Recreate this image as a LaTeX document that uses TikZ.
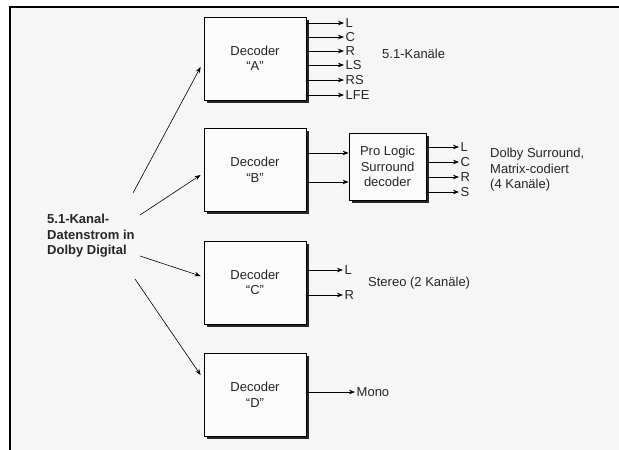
\documentclass[tikz,border=0pt]{standalone}
\usepackage{fontspec}
\setmainfont{Liberation Sans}
\usetikzlibrary{arrows.meta,shadows}
\tikzset{
  txt/.style={font=\fontsize{13}{15.5}\selectfont, text=black!85},
  decbox/.style={txt, draw=black, line width=0.8pt, fill=gray!3, minimum width=102pt, minimum height=83pt, inner sep=0pt, align=center,
     drop shadow={shadow xshift=2.5pt, shadow yshift=-2.5pt, fill=black!85, opacity=1}},
  arr/.style={-{Stealth[length=6pt,width=4.5pt]}, line width=0.6pt},
  lbl/.style={txt, anchor=west, inner sep=1.5pt},
  note/.style={txt, anchor=west, inner sep=0pt, align=left},
}
\begin{document}
\begin{tikzpicture}[x=1pt,y=-1pt]
\useasboundingbox (0,0) rectangle (619,450);
\fill[white] (0,0) rectangle (619,450);
\fill[gray!7] (10,7) rectangle (619,450);
\draw[line width=1.6pt] (10,450) -- (10,7) -- (619,7);

% decoders
\node[decbox] (A) at (255,58.5) {Decoder\\“A”};
\node[decbox] (B) at (255,170) {Decoder\\“B”};
\node[decbox] (C) at (255,282.5) {Decoder\\“C”};
\node[decbox] (D) at (255,395) {Decoder\\“D”};
\node[decbox, minimum width=77pt, minimum height=67pt] (PL) at (387.5,166.5) {Pro Logic\\Surround\\decoder};

% source
\node[txt, font=\fontsize{13}{15.5}\selectfont\bfseries, anchor=west, align=left, inner sep=0pt] (src) at (47,236) {5.1-Kanal-\\Datenstrom in\\Dolby Digital};
\coordinate (s1) at (133,193);
\coordinate (s2) at (140,215);
\coordinate (s3) at (140,256);
\coordinate (s4) at (135,279);
\draw[arr] (s1) -- ([xshift=-3pt,yshift=-8.5pt]A.west);
\draw[arr] (s2) -- ([xshift=-3pt,yshift=-5pt]B.west);
\draw[arr] (s3) -- ([xshift=-3pt,yshift=6.5pt]C.west);
\draw[arr] (s4) -- ([xshift=-3pt,yshift=20pt]D.west);

% decoder A outputs
\node[lbl] (aL) at (344,23) {L};
\node[lbl] (aC) at (344,37) {C};
\node[lbl] (aR) at (344,51) {R};
\node[lbl] (aLS) at (344,65) {LS};
\node[lbl] (aRS) at (344,80) {RS};
\node[lbl] (aLFE) at (344,95) {LFE};
\foreach \n in {aL,aC,aR,aLS,aRS,aLFE}{\draw[arr] (A.east |- \n) -- (\n.west);}
\node[note] (t51) at (382,54) {5.1-Kanäle};

% decoder B -> Pro Logic
\draw[arr] ([yshift=13.5pt]PL.west -| B.east) -- ([yshift=13.5pt]PL.west);
\draw[arr] ([yshift=-15.5pt]PL.west -| B.east) -- ([yshift=-15.5pt]PL.west);
\node[lbl] (pL) at (459,147) {L};
\node[lbl] (pC) at (459,162) {C};
\node[lbl] (pR) at (459,177) {R};
\node[lbl] (pS) at (459,192) {S};
\foreach \n in {pL,pC,pR,pS}{\draw[arr] (PL.east |- \n) -- (\n.west);}
\node[note] (tds) at (490,170) {Dolby Surround,\\Matrix-codiert\\(4 Kanäle)};

% decoder C
\node[lbl] (cL) at (343,270) {L};
\node[lbl] (cR) at (343,295) {R};
\foreach \n in {cL,cR}{\draw[arr] (C.east |- \n) -- (\n.west);}
\node[note] (tst) at (368,283) {Stereo (2 Kanäle)};

% decoder D
\node[lbl] (dM) at (355,392) {Mono};
\draw[arr] (D.east |- dM) -- (dM.west);
\end{tikzpicture}
\end{document}
